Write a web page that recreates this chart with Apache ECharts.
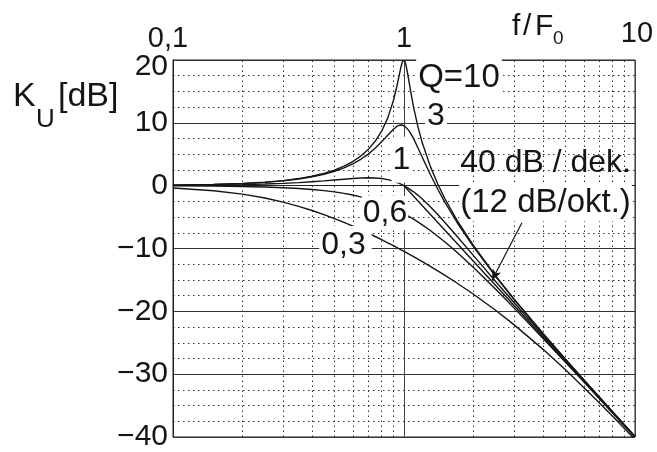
<!DOCTYPE html>
<html>
<head>
<meta charset="utf-8">
<script src="https://cdn.jsdelivr.net/npm/echarts@6/dist/echarts.min.js"></script>
<style>html,body{margin:0;padding:0;background:#fff}#c{width:657px;height:452px}</style>
</head>
<body>
<div id="c"></div>
<script>
// ---- data (f/F0 on log axis, KU in dB) ----
const freqFine = [0.1,0.15,0.2,0.25,0.3,0.35,0.4,0.45,0.5,0.55,0.6,0.65,0.7,0.75,0.8,0.85,0.9,0.93,0.95,0.97,0.98,0.99,1,1.01,1.02,1.03,1.05,1.07,1.1,1.15,1.2,1.3,1.4,1.5,1.7,2,2.5,3,4,5,6,7,8,10];
const kuQ10 = [0.09,0.2,0.35,0.56,0.81,1.13,1.5,1.95,2.48,3.1,3.84,4.71,5.77,7.06,8.67,10.75,13.55,15.7,17.32,18.89,19.52,19.92,20,19.75,19.2,18.44,16.67,14.89,12.5,9.31,6.82,3.07,0.26,-2,-5.56,-9.56,-14.41,-18.07,-23.53,-27.61,-30.88,-33.63,-35.99,-39.91];
const kuQ3 = [0.08,0.19,0.33,0.53,0.77,1.06,1.41,1.81,2.29,2.84,3.47,4.2,5.02,5.95,6.97,8.03,8.99,9.42,9.6,9.66,9.66,9.61,9.54,9.44,9.31,9.15,8.76,8.29,7.48,6.0,4.52,1.78,-0.57,-2.58,-5.9,-9.75,-14.51,-18.13,-23.56,-27.63,-30.9,-33.64,-36.0,-39.92];
const kuQ1 = [0.04,0.1,0.17,0.26,0.37,0.49,0.63,0.76,0.9,1.03,1.14,1.21,1.25,1.23,1.14,0.97,0.73,0.54,0.4,0.25,0.17,0.09,0,-0.09,-0.18,-0.27,-0.46,-0.67,-0.98,-1.54,-2.13,-3.36,-4.6,-5.81,-8.1,-11.14,-15.29,-18.63,-23.82,-27.79,-31.01,-33.72,-36.06,-39.96];
const freqCoarse = [0.1,0.15,0.2,0.25,0.3,0.35,0.4,0.45,0.5,0.55,0.6,0.65,0.7,0.75,0.8,0.85,0.9,0.95,1,1.1,1.2,1.3,1.5,1.7,2,2.5,3,4,5,6,7,8,10];
const kuQ06 = [-0.03,-0.08,-0.14,-0.22,-0.33,-0.45,-0.61,-0.79,-0.99,-1.23,-1.49,-1.78,-2.1,-2.44,-2.8,-3.19,-3.59,-4.01,-4.44,-5.32,-6.23,-7.14,-8.93,-10.65,-13.03,-16.53,-19.49,-24.31,-28.1,-31.22,-33.87,-36.18,-40.03];
const kuQ03 = [-0.38,-0.81,-1.35,-1.97,-2.62,-3.29,-3.95,-4.6,-5.24,-5.85,-6.44,-7.01,-7.56,-8.09,-8.6,-9.09,-9.56,-10.02,-10.46,-11.3,-12.09,-12.85,-14.24,-15.53,-17.28,-19.87,-22.15,-26.05,-29.31,-32.11,-34.55,-36.7,-40.38];
const asymFreq = [1, 10];
const asymDb = [0, -40];
const minorFreq = [0.2,0.3,0.4,0.5,0.6,0.7,0.8,0.9,2,3,4,5,6,7,8,9];
const qLabels = ['Q=10', '3', '1', '0,6', '0,3'];

const FONT = 'Liberation Sans, Arial, Helvetica, sans-serif';
const INK = '#151515';
const pts = (xs, ys) => xs.map((x, i) => [x, ys[i]]);
const curve = (name, xs, ys) => ({
  name, type: 'line', data: pts(xs, ys), symbol: 'none', showSymbol: false,
  silent: true, z: 3, lineStyle: { color: INK, width: 1.4 }, clip: true
});

const chart = echarts.init(document.getElementById('c'), null, { renderer: 'canvas' });
const tStyle = (s) => ({ fontSize: s, fontWeight: 'normal', color: INK, fontFamily: FONT });

const q10 = curve('Q10', freqFine, kuQ10);
const q3 = curve('Q3', freqFine, kuQ3);
const q1 = curve('Q1', freqFine, kuQ1);
const q06 = curve('Q06', freqCoarse, kuQ06);
const q03 = curve('Q03', freqCoarse, kuQ03);
const asym = curve('asym', asymFreq, asymDb);

// minor (dotted) vertical grid lines at log positions
asym.markLine = {
  silent: true, z: 1, symbol: ['none', 'none'], animation: false,
  label: { show: false },
  lineStyle: { color: '#333', type: [1.5, 3.5], width: 1 },
  emphasis: { disabled: true },
  data: minorFreq.map(v => ({ xAxis: v }))
};

// annotations (text with white boxes) and arrow
q03.markLine = {
  silent: true, z: 6, animation: false, label: { show: false },
  emphasis: { disabled: true },
  data: [[
    { coord: [3.24, -5.9], symbol: 'none', lineStyle: { color: INK, width: 1.2, type: 'solid' } },
    { coord: [2.40, -15.08], symbol: 'arrow', symbolSize: [7, 11] }
  ]]
};
const lab = (fs, pad, bg) => ({ fontSize: fs, padding: pad, backgroundColor: bg || '#fff' });
q03.markPoint = {
  silent: true, z: 5, animation: false, symbol: 'circle', symbolSize: 1,
  itemStyle: { color: 'rgba(0,0,0,0)' },
  label: { show: true, position: 'inside', color: INK, fontFamily: FONT, fontSize: 32, formatter: '{b}' },
  emphasis: { disabled: true },
  data: [
    { name: qLabels[0], coord: [1.73, 17.22], label: lab(33, [3, 2, 3, 2]) },
    { name: qLabels[1], coord: [1.376, 11.11], label: lab(32, [1, 2, 1, 2]) },
    { name: qLabels[2], coord: [0.975, 4.13], label: lab(32, [7, 1, 7, 1]) },
    { name: qLabels[3], coord: [0.827, -4.37], label: lab(32, [1, 1, 1, 1]) },
    { name: qLabels[4], coord: [0.558, -9.44], label: lab(32, [6, 6, 0, 2]) },
    { name: '40 dB / dek.', coord: [4.10, 3.57], label: lab(32, [0, 0, 0, 0], 'rgba(0,0,0,0)') },
    { name: '(12 dB/okt.)', coord: [4.10, -2.7], label: lab(33, [3, 1, 1, 1]) }
  ]
};

chart.setOption({
  animation: false,
  backgroundColor: '#fff',
  title: [
    { text: 'K', left: 13, top: 80, padding: 0, textStyle: tStyle(34) },
    { text: 'U', left: 36, top: 107, padding: 0, textStyle: tStyle(26) },
    { text: '[dB]', left: 58, top: 80, padding: 0, textStyle: tStyle(34) },
    { text: 'f', left: 512, top: 12, padding: 0, textStyle: tStyle(30) },
    { text: '/', left: 523, top: 12, padding: 0, textStyle: tStyle(30) },
    { text: 'F', left: 535, top: 12, padding: 0, textStyle: tStyle(30) },
    { text: '0', left: 553, top: 29, padding: 0, textStyle: tStyle(19) }
  ],
  grid: { left: 173, right: 22, top: 60, bottom: 14, show: true, borderColor: '#222', borderWidth: 1 },
  xAxis: {
    type: 'log', logBase: 10, min: 0.1, max: 10, position: 'top',
    axisLine: { show: true, lineStyle: { color: '#222', width: 1 } },
    axisTick: { show: false },
    splitLine: { show: true, lineStyle: { color: '#444', width: 1 } },
    axisLabel: {
      show: true, showMinLabel: true, showMaxLabel: true, margin: 7,
      fontSize: 29, color: INK, fontFamily: FONT,
      formatter: v => {
        const s = String(+(+v).toPrecision(3)).replace('.', ',');
        if (v < 0.5) return '{l|' + s + '}';
        if (v > 5) return '{r|' + s + '}';
        return s;
      },
      rich: {
        l: { fontSize: 29, color: INK, fontFamily: FONT, padding: [0, 10, 0, 0] },
        r: { fontSize: 29, color: INK, fontFamily: FONT, padding: [0, 0, 5, 4] }
      }
    }
  },
  yAxis: {
    type: 'value', min: -40, max: 20, interval: 10,
    axisLine: { show: true, lineStyle: { color: '#222', width: 1 } },
    axisTick: { show: false },
    splitLine: { show: true, lineStyle: { color: '#333', width: 1 } },
    minorTick: { show: false, splitNumber: 4 },
    minorSplitLine: { show: true, lineStyle: { color: '#333', type: [1.5, 3.5], width: 1 } },
    axisLabel: {
      margin: 5, fontSize: 30, color: INK, fontFamily: FONT,
      formatter: v => v === 20 ? '{t|20}' : (v < 0 ? '\u2212' + Math.abs(v) : String(v)),
      rich: { t: { fontSize: 30, color: INK, fontFamily: FONT, padding: [14, 0, 0, 0] } }
    }
  },
  series: [asym, q10, q3, q1, q06, q03]
});
</script>
</body>
</html>
